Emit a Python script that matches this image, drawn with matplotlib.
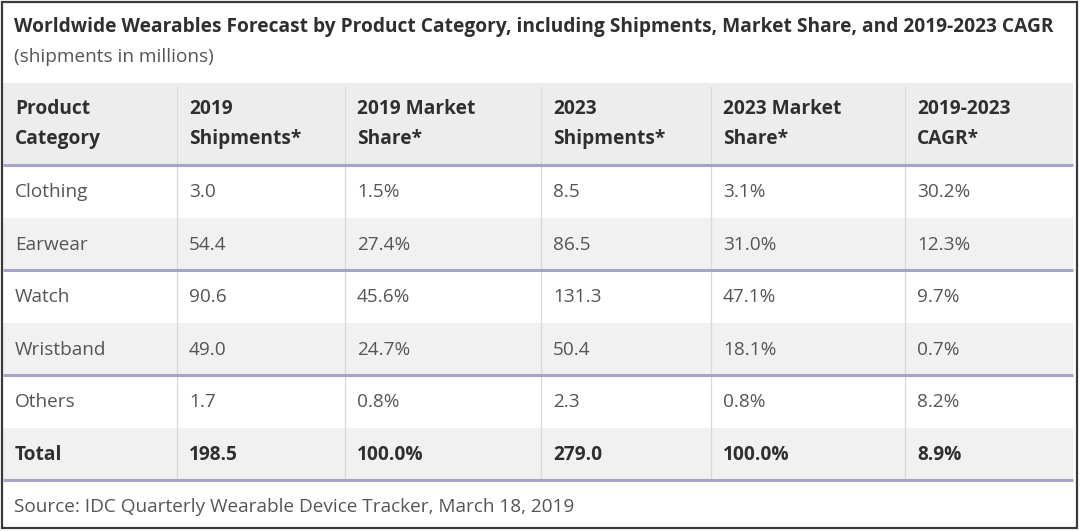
import matplotlib
matplotlib.use("Agg")
import matplotlib.pyplot as plt
from matplotlib.patches import Rectangle

# ---- data ----
title = "Worldwide Wearables Forecast by Product Category, including Shipments, Market Share, and 2019-2023 CAGR"
subtitle = "(shipments in millions)"
source = "Source: IDC Quarterly Wearable Device Tracker, March 18, 2019"
headers = ["Product\nCategory", "2019\nShipments*", "2019 Market\nShare*",
           "2023\nShipments*", "2023 Market\nShare*", "2019-2023\nCAGR*"]
categories = ["Clothing", "Earwear", "Watch", "Wristband", "Others", "Total"]
ship_2019 = [3.0, 54.4, 90.6, 49.0, 1.7, 198.5]
share_2019 = [1.5, 27.4, 45.6, 24.7, 0.8, 100.0]
ship_2023 = [8.5, 86.5, 131.3, 50.4, 2.3, 279.0]
share_2023 = [3.1, 31.0, 47.1, 18.1, 0.8, 100.0]
cagr = [30.2, 12.3, 9.7, 0.7, 8.2, 8.9]

# ---- layout (pixel space) ----
W, H = 1080, 531
col_edges = [3, 177, 345, 541, 711, 905, 1073]
header_top, header_bot = 83, 165
row_h = 52.5
pad = 12
FS_B = 13.8
FS_N = 13.7

FONT = "Open Sans"
plt.rcParams['font.family'] = [FONT, 'DejaVu Sans']

fig = plt.figure(figsize=(W / 100, H / 100), dpi=100)
ax = fig.add_axes([0, 0, 1, 1])
ax.set_xlim(0, W)
ax.set_ylim(H, 0)
ax.axis("off")

hdr_bg = "#ededed"
alt_bg = "#f1f1f1"
line_c = "#a4a4c9"
div_c = "#d9d9d9"
hdr_txt = "#2f2f2f"
body_txt = "#555555"

# outer frame
ax.add_patch(Rectangle((2, 2), 1075, 526, fill=False, ec="#3a3a3a", lw=1.6, zorder=5))

# title / subtitle
ax.text(14, 27, title, fontsize=FS_B, fontweight="bold", color=hdr_txt, va="center", ha="left")
ax.text(14, 57, subtitle, fontsize=FS_N, color=body_txt, va="center", ha="left")

x0, x1 = col_edges[0], col_edges[-1]
# header bg
ax.add_patch(Rectangle((x0, header_top), x1 - x0, header_bot - header_top, fc=hdr_bg, ec="none", zorder=1))
for j, h in enumerate(headers):
    l1, l2 = h.split("\n")
    ax.text(col_edges[j] + pad, 109, l1, fontsize=FS_B, fontweight="bold", color=hdr_txt, va="center")
    ax.text(col_edges[j] + pad, 139, l2, fontsize=FS_B, fontweight="bold", color=hdr_txt, va="center")

cols = [categories,
        [f"{v:.1f}" for v in ship_2019],
        [f"{v:.1f}%" for v in share_2019],
        [f"{v:.1f}" for v in ship_2023],
        [f"{v:.1f}%" for v in share_2023],
        [f"{v:.1f}%" for v in cagr]]

n = len(categories)
row_tops = [header_bot + i * row_h for i in range(n)]
for i in range(n):
    top = row_tops[i]
    if i % 2 == 1:
        ax.add_patch(Rectangle((x0, top), x1 - x0, row_h, fc=alt_bg, ec="none", zorder=1))
    is_total = categories[i] == "Total"
    for j in range(len(cols)):
        ax.text(col_edges[j] + pad, top + row_h / 2 + 1, cols[j][i],
                fontsize=FS_B if is_total else FS_N,
                fontweight="bold" if is_total else "normal",
                color=hdr_txt if is_total else body_txt, va="center", zorder=3)

table_bot = header_bot + n * row_h
# vertical dividers
for xe in col_edges[1:-1]:
    ax.plot([xe, xe], [header_top + 4, table_bot], color=div_c, lw=0.9, zorder=2)

# thick separators: under header and after every two rows
seps = [header_bot] + [header_bot + k * row_h for k in (2, 4, 6)]
for y in seps:
    ax.plot([x0, x1], [y, y], color=line_c, lw=2.2, zorder=4, solid_capstyle="butt")

ax.text(14, 507, source, fontsize=FS_N, color=body_txt, va="center", ha="left")

fig.savefig("out.png", dpi=100, facecolor="white")
